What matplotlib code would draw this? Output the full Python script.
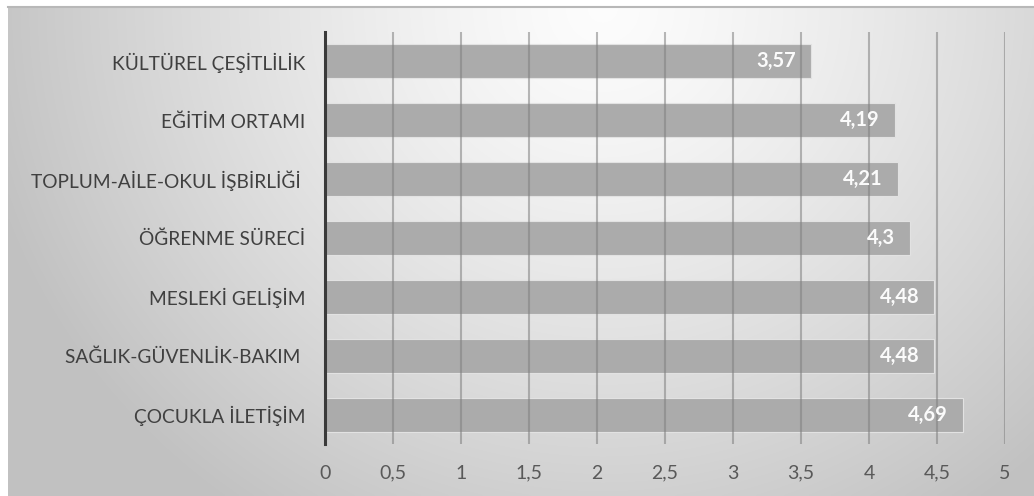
import numpy as np
import matplotlib
matplotlib.use("Agg")
import matplotlib.pyplot as plt

plt.rcParams['font.family'] = ['Lato', 'DejaVu Sans']

categories = [
    "KÜLTÜREL ÇEŞİTLİLİK",
    "EĞİTİM ORTAMI",
    "TOPLUM-AİLE-OKUL İŞBİRLİĞİ ",
    "ÖĞRENME SÜRECİ",
    "MESLEKİ GELİŞİM",
    "SAĞLIK-GÜVENLİK-BAKIM ",
    "ÇOCUKLA İLETİŞİM",
]
values = [3.57, 4.19, 4.21, 4.3, 4.48, 4.48, 4.69]
xticks = [0, 0.5, 1, 1.5, 2, 2.5, 3, 3.5, 4, 4.5, 5]
xtick_labels = ["0", "0,5", "1", "1,5", "2", "2,5", "3", "3,5", "4", "4,5", "5"]

W, H = 1034, 496
fig = plt.figure(figsize=(W / 100, H / 100), dpi=100)
fig.patch.set_facecolor("white")

# soft radial gradient behind the chart
bg = fig.add_axes([8 / W, 0, 1 - 8 / W, 1 - 7 / H])
bg.set_axis_off()
ny, nx = 200, 400
yy, xx = np.mgrid[0:1:ny * 1j, 0:1:nx * 1j]
cx, cy = 0.58, 0.0
d = np.sqrt(((xx - cx) / 0.62) ** 2 + ((yy - cy) / 1.25) ** 2)
d = np.clip(d, 0, 1)
shade = 0.99 - 0.23 * d ** 1.3
bg.imshow(np.dstack([shade] * 3), aspect="auto", extent=[0, 1, 0, 1],
          origin="upper", interpolation="bilinear")
bg.plot([0, 1], [1, 1], color="#b8b8b8", lw=1.5, transform=bg.transAxes, clip_on=False)

ax = fig.add_axes([325 / W, 1 - 444 / H, (1005 - 325) / W, (444 - 32) / H])
ax.patch.set_alpha(0)

y = np.arange(len(categories))
ax.barh(y, values, height=0.58, color="#ababab", edgecolor="#e2e2e2",
        linewidth=0.8, zorder=2)

for yi, v in zip(y, values):
    ax.text(v - 0.11, yi, f"{v:g}".replace(".", ","), ha="right", va="center",
            color="#fbfbfb", fontsize=14.5, fontweight="bold", zorder=4)

ax.set_ylim(len(categories) - 0.5, -0.5)
ax.set_xlim(0, 5)
ax.set_yticks(y)
ax.set_yticklabels(categories, fontsize=13.8, color="#404040")
ax.set_xticks(xticks)
ax.set_xticklabels(xtick_labels, fontsize=14, color="#595959")
ax.tick_params(axis="both", length=0)
ax.tick_params(axis="y", pad=14)
ax.tick_params(axis="x", pad=15)

ax.set_axisbelow(False)
ax.xaxis.grid(True, color="#808080", alpha=0.55, lw=1.5, zorder=3)
ax.yaxis.grid(False)
for s in ["top", "right", "bottom"]:
    ax.spines[s].set_visible(False)
ax.spines["left"].set_color("#3a3a3a")
ax.spines["left"].set_linewidth(2.2)
ax.spines["left"].set_zorder(5)

fig.savefig("out.png", dpi=100)
